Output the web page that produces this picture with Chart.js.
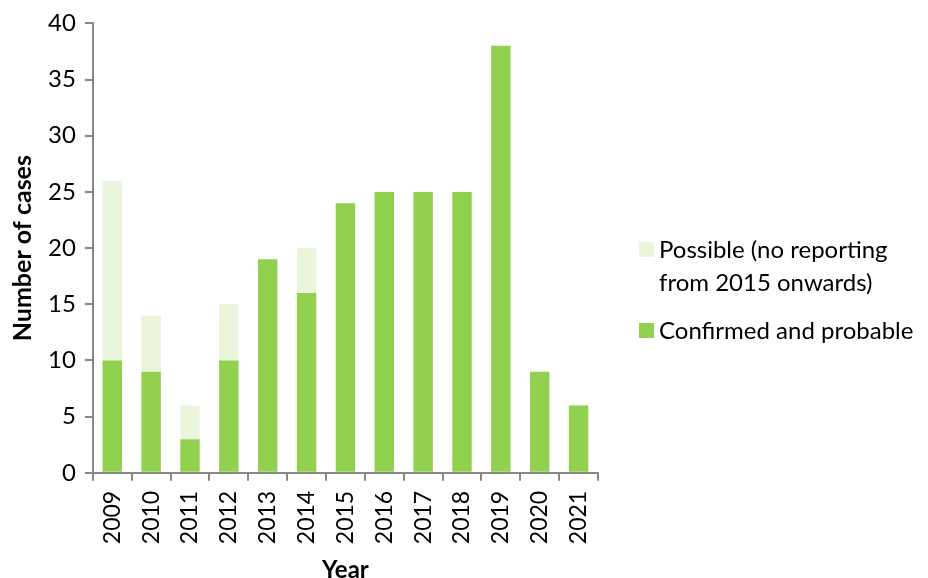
<!DOCTYPE html>
<html>
<head>
<meta charset="utf-8">
<script src="https://cdn.jsdelivr.net/npm/chart.js@4"></script>
<style>
  body { margin: 0; background: #fff; }
  #wrap { position: relative; width: 928px; height: 578px; overflow: hidden; }
  #legend { position: absolute; left: 639px; top: 232px; font-family: Lato, "Open Sans", sans-serif; font-size: 24px; color: #000; line-height: 33px; }
  .item { display: flex; align-items: flex-start; }
  .sw { width: 15px; height: 15px; margin: 10px 5px 0 0; flex: none; }
</style>
</head>
<body>
<div id="wrap">
  <canvas id="chart" width="928" height="585"></canvas>
  <div id="legend">
    <div class="item"><span class="sw" style="background:#EBF5DB"></span><span>Possible (no reporting<br>from 2015 onwards)</span></div>
    <div class="item" style="margin-top:15px"><span class="sw" style="background:#92D050"></span><span>Confirmed and probable</span></div>
  </div>
</div>
<script>
// chart values
const years = ['2009', '2010', '2011', '2012', '2013', '2014', '2015', '2016', '2017', '2018', '2019', '2020', '2021'];
const confirmedProbable = [10, 9, 3, 10, 19, 16, 24, 25, 25, 25, 38, 9, 6];
const possible = [16, 5, 3, 5, 0, 4, 0, 0, 0, 0, 0, 0, 0];

const axisColor = '#898989';
const fontFamily = 'Lato, "Open Sans", sans-serif';

const ctx = document.getElementById('chart').getContext('2d');
new Chart(ctx, {
    type: 'bar',
    data: {
        labels: years,
        datasets: [{
            label: 'Confirmed and probable',
            data: confirmedProbable,
            backgroundColor: '#92D050'
        }, {
            label: 'Possible (no reporting from 2015 onwards)',
            data: possible,
            backgroundColor: '#EBF5DB'
        }]
    },
    options: {
        responsive: false,
        animation: false,
        datasets: { bar: { barPercentage: 0.5, categoryPercentage: 1 } },
        layout: { padding: { top: 19, right: 330, left: 4, bottom: 0 } },
        plugins: {
            legend: { display: false },
            tooltip: { enabled: false }
        },
        scales: {
            x: {
                stacked: true,
                border: { color: axisColor, width: 2 },
                grid: { drawOnChartArea: false, color: axisColor, lineWidth: 2, tickLength: 8 },
                ticks: { color: '#000', minRotation: 90, maxRotation: 90, padding: 10, font: { family: fontFamily, size: 23 } },
                title: { display: true, text: 'Year', color: '#000', padding: { top: 2, bottom: 0 }, font: { family: fontFamily, size: 24, weight: 'bold' } }
            },
            y: {
                stacked: true,
                min: 0,
                max: 40,
                border: { color: axisColor, width: 2 },
                grid: { drawOnChartArea: false, color: axisColor, lineWidth: 2, tickLength: 8 },
                ticks: { stepSize: 5, color: '#000', padding: 9, font: { family: fontFamily, size: 24 } },
                title: { display: true, text: 'Number of cases', color: '#000', padding: { bottom: 1 }, font: { family: fontFamily, size: 25, weight: 'bold' } }
            }
        }
    }
});
</script>
</body>
</html>
